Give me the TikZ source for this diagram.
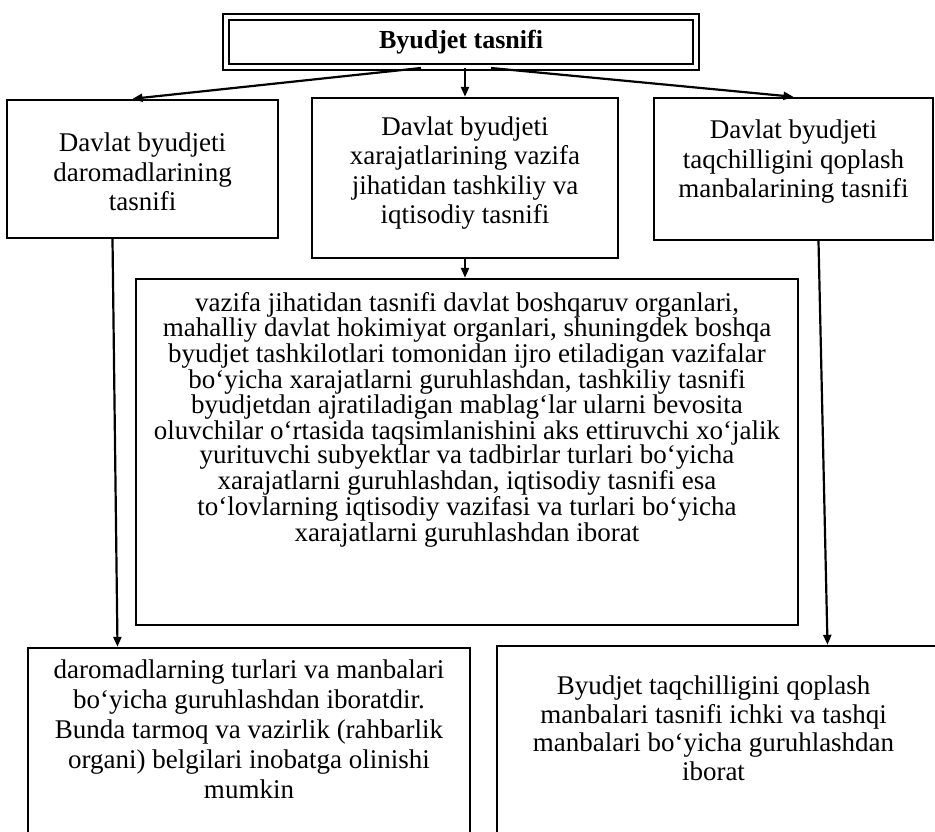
\documentclass[tikz,border=0pt]{standalone}
\usepackage{fontspec}
\setmainfont{Liberation Serif}
\usetikzlibrary{arrows.meta,positioning}

\begin{document}
\begin{tikzpicture}[x=1pt,y=1pt,
    box/.style={draw,line width=2.4pt,inner sep=0pt},
    txt/.style={align=center,inner sep=0pt,font=\fontsize{27}{29.5}\selectfont},
    arr/.style={line width=2.2pt,-{Triangle[length=10pt,width=8pt]}}]
  % Frame
  \useasboundingbox (0,0) rectangle (935,-831);

  % Title
  \node[box,double,double distance=3.5pt,line width=2pt,minimum width=470pt,minimum height=50pt,
        font=\fontsize{26}{30}\selectfont\bfseries] (T) at (461,-42) {Byudjet tasnifi};

  % Upper row of boxes
  \node[box,minimum width=271pt,minimum height=138pt] (L) at (142.5,-169) {};
  \node[box,minimum width=306pt,minimum height=160pt] (M) at (465,-178) {};
  \node[box,minimum width=279pt,minimum height=142pt] (R) at (793.5,-169) {};
  \node[txt] (Ltxt) at ([yshift=-3pt]L.center) {Davlat byudjeti\\daromadlarining\\tasnifi};
  \node[txt] (Mtxt) at ([yshift=5pt]M.center) {Davlat byudjeti\\xarajatlarining vazifa\\jihatidan tashkiliy va\\iqtisodiy tasnifi};
  \node[txt] (Rtxt) at ([yshift=7pt]R.center) {Davlat byudjeti\\taqchilligini qoplash\\manbalarining tasnifi};

  % Middle box
  \node[box,minimum width=662pt,minimum height=346pt] (B) at (467,-452) {};
  \node[txt,font=\fontsize{27}{24.5}\selectfont,anchor=north] (Btxt) at ([yshift=-14pt]B.north) {%
    vazifa jihatidan tasnifi davlat boshqaruv organlari,\\
    mahalliy davlat hokimiyat organlari, shuningdek boshqa\\
    byudjet tashkilotlari tomonidan ijro etiladigan vazifalar\\
    bo‘yicha xarajatlarni guruhlashdan, tashkiliy tasnifi\\
    byudjetdan ajratiladigan mablag‘lar ularni bevosita\\
    oluvchilar o‘rtasida taqsimlanishini aks ettiruvchi xo‘jalik\\
    yurituvchi subyektlar va tadbirlar turlari bo‘yicha\\
    xarajatlarni guruhlashdan, iqtisodiy tasnifi esa\\
    to‘lovlarning iqtisodiy vazifasi va turlari bo‘yicha\\
    xarajatlarni guruhlashdan iborat};

  % Lower row (cut by the page edge)
  \node[box,minimum width=442pt,minimum height=222pt] (BL) at (249,-759) {};
  \node[box,minimum width=473pt,minimum height=224pt] (BR) at (733.5,-758) {};
  \node[txt,font=\fontsize{27}{30}\selectfont,anchor=north] (BLtxt) at ([yshift=-13pt]BL.north) {%
    daromadlarning turlari va manbalari\\
    bo‘yicha guruhlashdan iboratdir.\\
    Bunda tarmoq va vazirlik (rahbarlik\\
    organi) belgilari inobatga olinishi\\
    mumkin};
  \node[txt,font=\fontsize{27}{28.5}\selectfont,anchor=north] (BRtxt) at ([xshift=-20pt,yshift=-31pt]BR.north) {%
    Byudjet taqchilligini qoplash\\
    manbalari tasnifi ichki va tashqi\\
    manbalari bo‘yicha guruhlashdan\\
    iborat};

  % Arrows
  \draw[arr] ([xshift=-40pt]T.south) -- ([xshift=-10pt]L.north);
  \draw[arr] ([xshift=4pt]T.south) -- ([xshift=4pt]T.south |- M.north);
  \draw[arr] ([xshift=30pt]T.south) -- (R.north);
  \draw[arr] (M.south) -- (M.south |- B.north);
  \draw[arr] ([xshift=-30pt]L.south) -- ([xshift=-25pt]L.south |- BL.north);
  \draw[arr] ([xshift=25pt]R.south) -- ([xshift=34pt]R.south |- BR.north);
\end{tikzpicture}
\end{document}
